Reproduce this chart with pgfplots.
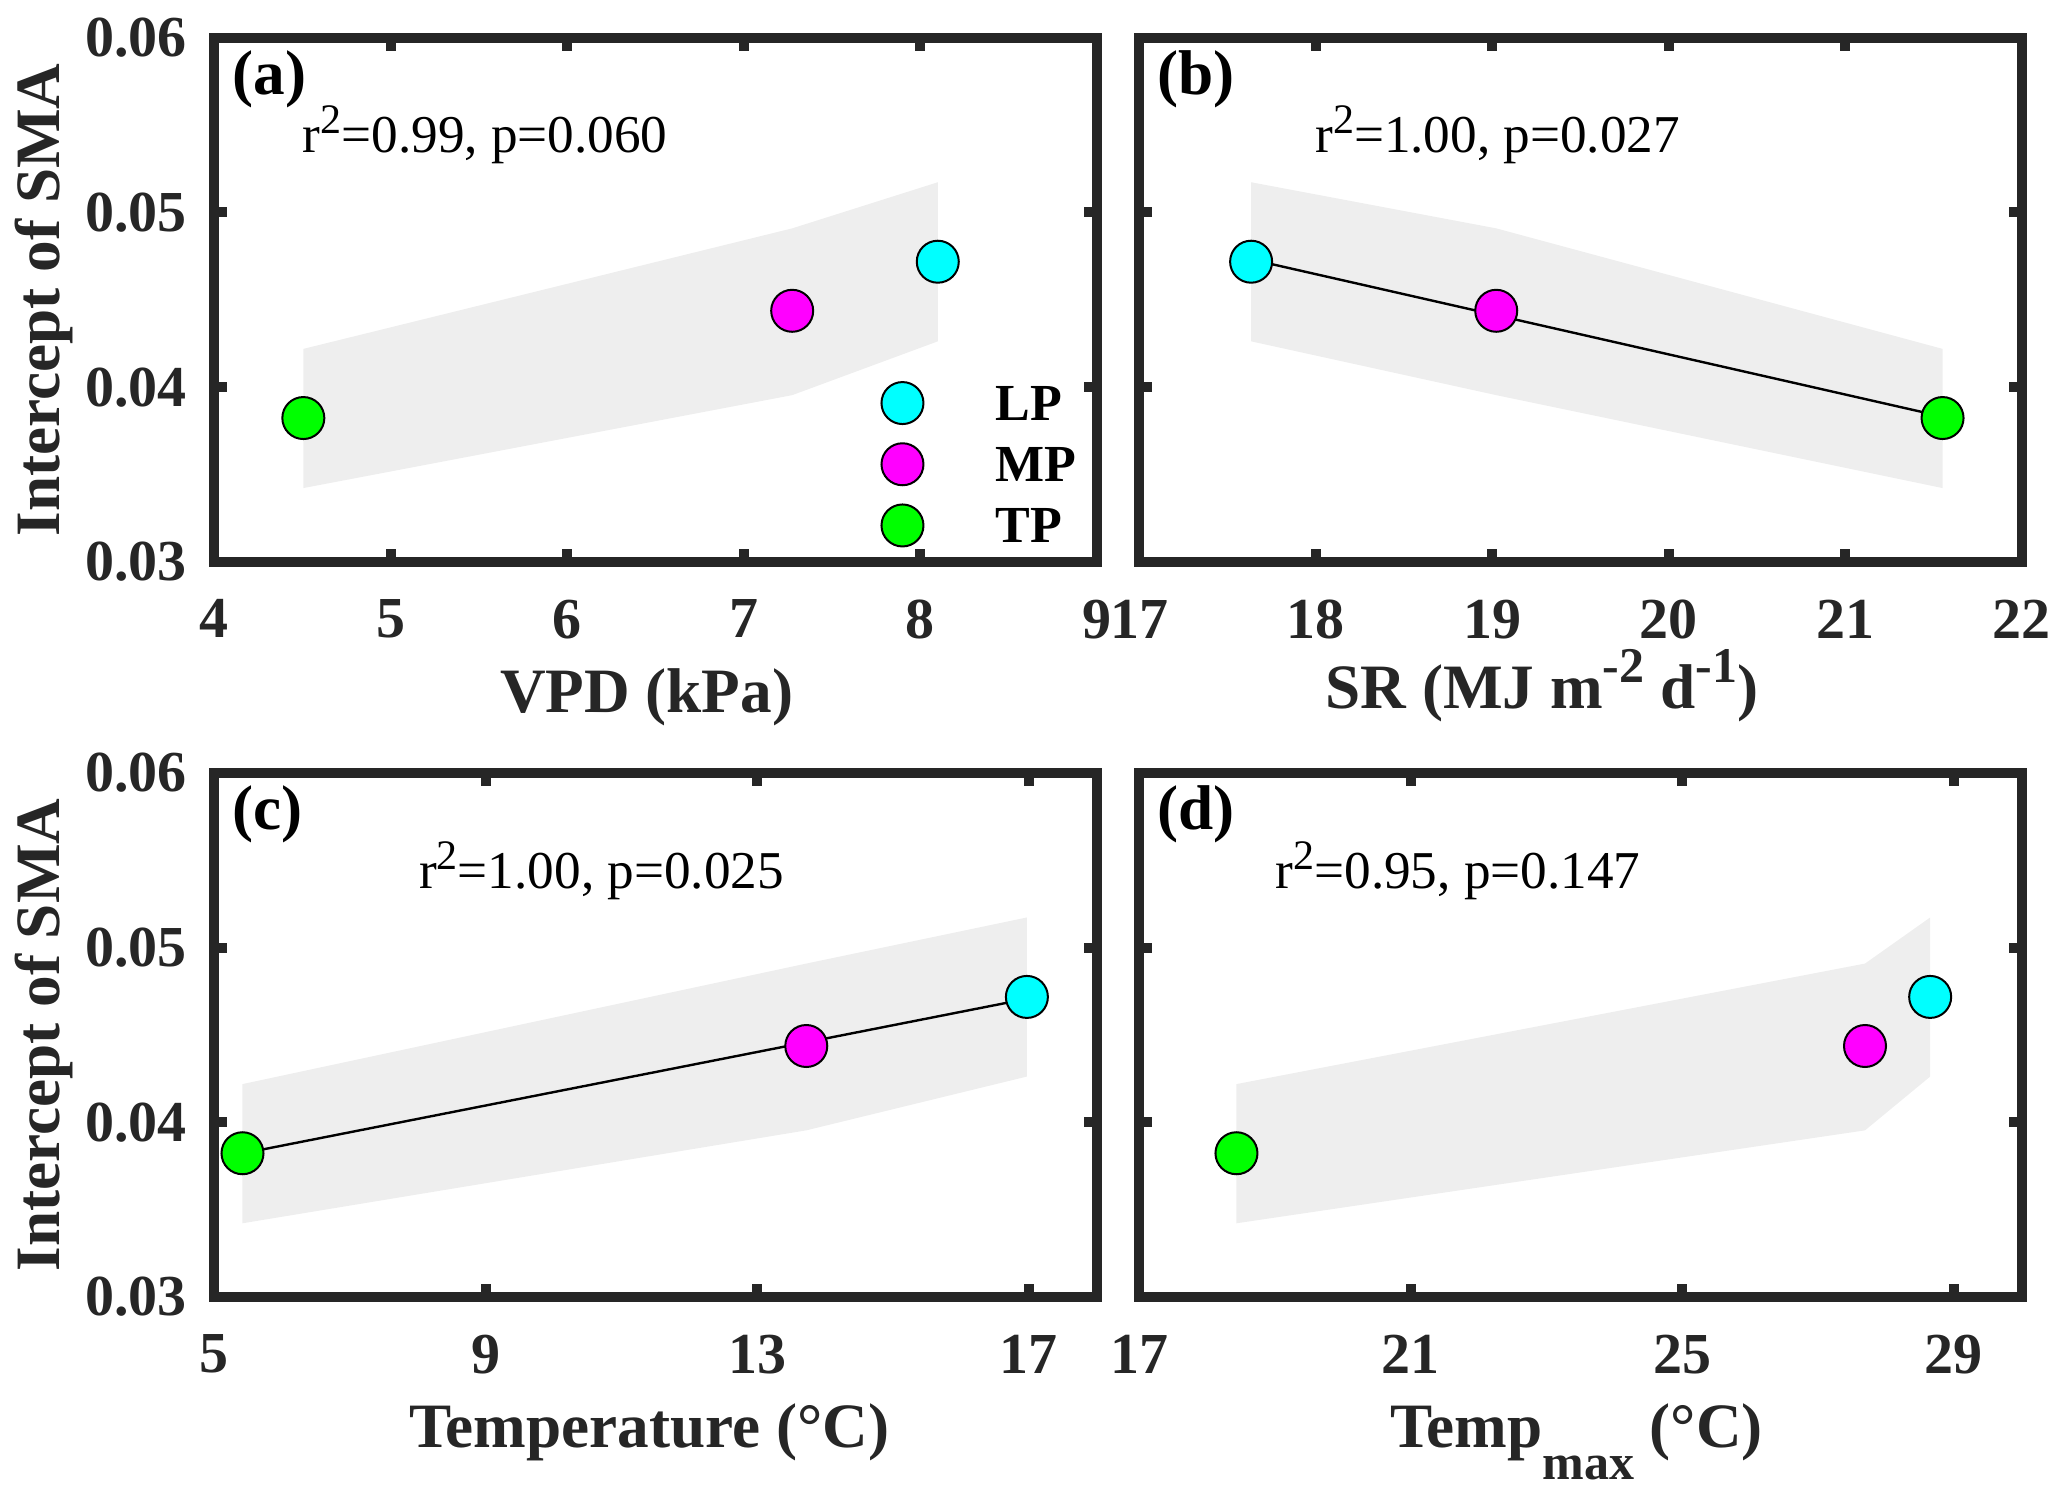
\documentclass[border=0pt]{standalone}
\usepackage{fontspec}
\setmainfont{Liberation Serif}
\usepackage{pgfplots}
\pgfplotsset{compat=1.18}
\definecolor{axcol}{RGB}{38,38,38}
\definecolor{bandc}{RGB}{238,238,238}
\definecolor{cLP}{RGB}{0,255,255}
\definecolor{cMP}{RGB}{255,0,255}
\definecolor{cTP}{RGB}{0,255,0}
\newcommand{\tkfont}{\bfseries\fontsize{14.5}{14.5}\selectfont}
\newcommand{\lbfont}{\bfseries\fontsize{15.8}{18}\selectfont}
\newcommand{\anfont}{\fontsize{13.3}{15}\selectfont}
\newcommand{\sq}{\raisebox{4.8pt}{\fontsize{10.5}{10.5}\selectfont 2}}
\pgfplotsset{
  panel/.style={
    scale only axis, width=220.6pt, height=131pt,
    ymin=0.03, ymax=0.06, ytick={0.03,0.04,0.05,0.06},
    scaled y ticks=false, scaled x ticks=false,
    axis line style={line width=2.5pt, draw=axcol},
    tick align=inside, tick pos=both,
    major tick length=3.25pt,
    every tick/.style={line width=2.5pt, draw=axcol},
    tick label style={font=\tkfont, inner sep=0pt, text=axcol, /pgf/number format/assume math mode=true},
    xticklabel style={anchor=north, yshift=-9.3pt},
    yticklabel style={anchor=east, xshift=-6.75pt},
    label style={font=\lbfont, text=axcol, inner sep=0pt},
    xlabel style={at={(axis description cs:0.5,0)}, anchor=base, yshift=-37.75pt},
    ylabel style={at={(axis description cs:-0.175,0.5)}, anchor=base},
    clip=false,
  },
  pt/.style={only marks, mark=*, mark size=5.25pt,
    mark options={draw=black, line width=0.5pt, fill=#1},
    legend image code/.code={\draw[##1] plot coordinates {(0pt,0pt)};}},
  band/.style={fill=bandc, draw=none, forget plot},
  reg/.style={black, line width=0.6pt, no marks, forget plot},
}
\begin{document}
\begin{tikzpicture}
% ---------------- (a) VPD
\begin{axis}[panel, at={(0pt,183.8pt)}, anchor=south west,
  xmin=4, xmax=9, xtick={4,5,6,7,8,9}, xticklabels={4,5,6,7,8,9},
  yticklabels={0.03,0.04,0.05,0.06},
  xlabel={VPD (kPa)}, ylabel={Intercept of SMA},
  xlabel style={xshift=-2.25pt},
  legend style={at={(rel axis cs:0.756,0.343)}, anchor=north west, draw=none, fill=none,
    inner sep=0pt, outer sep=0pt, row sep=4.8pt,
    font=\bfseries\fontsize{13}{13}\selectfont,
    cells={anchor=west}, nodes={inner sep=0pt, text depth=0pt},
    /tikz/every odd column/.append style={column sep=18.1pt}},
  ]
\addplot[band] coordinates {(4.504,0.04219) (7.274,0.04909) (8.099,0.05173) (8.099,0.04262) (7.274,0.03954) (4.504,0.03422)};
\addplot[pt=cLP] coordinates {(8.099,0.04718)};
\addlegendentry{LP}
\addplot[pt=cMP] coordinates {(7.274,0.04437)};
\addlegendentry{MP}
\addplot[pt=cTP] coordinates {(4.504,0.03823)};
\addlegendentry{TP}
\node[anchor=north west, inner sep=0pt, font=\lbfont] at (rel axis cs:0.0197,0.9766) {(a)};
\node[anchor=base west, inner sep=0pt, font=\anfont] at (rel axis cs:0.0994,0.7814) {r\sq=0.99, p=0.060};
\end{axis}
% ---------------- (b) SR
\begin{axis}[panel, at={(231.25pt,183.8pt)}, anchor=south west,
  xmin=17, xmax=22, xtick={17,18,19,20,21,22}, xticklabels={17,18,19,20,21,22},
  yticklabels={},
  xlabel={SR (MJ m\raisebox{6.5pt}{\fontsize{12.5}{12.5}\selectfont -2} d\raisebox{6.5pt}{\fontsize{12.5}{12.5}\selectfont -1})},
  xlabel style={xshift=-9.7pt, yshift=1.1pt},
  ]
\addplot[band] coordinates {(17.633,0.05173) (19.022,0.04909) (21.551,0.04219) (21.551,0.03422) (19.022,0.03954) (17.633,0.04262)};
\addplot[reg] coordinates {(17.633,0.04731) (21.551,0.03831)};
\addplot[pt=cLP] coordinates {(17.633,0.04718)};
\addplot[pt=cMP] coordinates {(19.022,0.04437)};
\addplot[pt=cTP] coordinates {(21.551,0.03823)};
\node[anchor=north west, inner sep=0pt, font=\lbfont] at (rel axis cs:0.0197,0.9766) {(b)};
\node[anchor=base west, inner sep=0pt, font=\anfont] at (rel axis cs:0.1985,0.7814) {r\sq=1.00, p=0.027};
\end{axis}
% ---------------- (c) Temperature
\begin{axis}[panel, at={(0pt,0pt)}, anchor=south west,
  xmin=5, xmax=18, xtick={5,9,13,17}, xticklabels={5,9,13,17},
  yticklabels={0.03,0.04,0.05,0.06},
  xlabel={Temperature (°C)}, ylabel={Intercept of SMA},
  xlabel style={xshift=-1.6pt, yshift=0.1pt},
  ]
\addplot[band] coordinates {(5.414,0.04219) (13.72,0.04909) (16.97,0.05173) (16.97,0.04262) (13.72,0.03954) (5.414,0.03422)};
\addplot[reg] coordinates {(5.414,0.03822) (16.97,0.04707)};
\addplot[pt=cLP] coordinates {(16.97,0.04718)};
\addplot[pt=cMP] coordinates {(13.72,0.04437)};
\addplot[pt=cTP] coordinates {(5.414,0.03823)};
\node[anchor=north west, inner sep=0pt, font=\lbfont] at (rel axis cs:0.0197,0.9766) {(c)};
\node[anchor=base west, inner sep=0pt, font=\anfont] at (rel axis cs:0.2312,0.780) {r\sq=1.00, p=0.025};
\end{axis}
% ---------------- (d) Temp max
\begin{axis}[panel, at={(231.25pt,0pt)}, anchor=south west,
  xmin=17, xmax=30, xtick={17,21,25,29}, xticklabels={17,21,25,29},
  yticklabels={},
  xlabel={Temp\raisebox{-8.2pt}{\fontsize{12.5}{12.5}\selectfont max} (°C)},
  xlabel style={xshift=-1pt, yshift=0.2pt},
  ]
\addplot[band] coordinates {(18.43,0.04219) (27.69,0.04909) (28.65,0.05173) (28.65,0.04262) (27.69,0.03954) (18.43,0.03422)};
\addplot[pt=cLP] coordinates {(28.65,0.04718)};
\addplot[pt=cMP] coordinates {(27.69,0.04437)};
\addplot[pt=cTP] coordinates {(18.43,0.03823)};
\node[anchor=north west, inner sep=0pt, font=\lbfont] at (rel axis cs:0.0197,0.9766) {(d)};
\node[anchor=base west, inner sep=0pt, font=\anfont] at (rel axis cs:0.1536,0.780) {r\sq=0.95, p=0.147};
\end{axis}
\pgfresetboundingbox
\path (-53.6pt,-50.5pt) rectangle (463.15pt,324.25pt);
\end{tikzpicture}
\end{document}
